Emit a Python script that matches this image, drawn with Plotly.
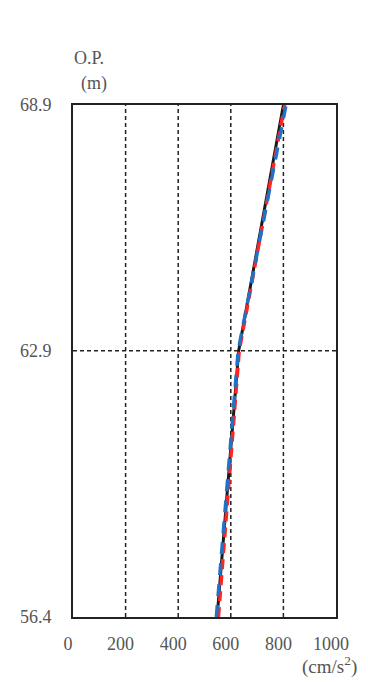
import plotly.graph_objects as go

heights = [56.4, 62.9, 68.9]
black_vals = [548, 630, 800]
red_vals = [553, 632, 805]
blue_vals = [545, 628, 810]

x_ticks = [0, 200, 400, 600, 800, 1000]
x_ticklabels = ["0", "200", "400", "600", "800", "1000"]
y_ticks = [56.4, 62.9, 68.9]
y_ticklabels = ["56.4", "62.9", "68.9"]

FONT = "Liberation Serif"
TXT = "#555555"

fig = go.Figure()
fig.add_trace(go.Scatter(x=black_vals, y=heights, mode="lines",
                         line=dict(color="#1a1a1a", width=3), showlegend=False))
fig.add_trace(go.Scatter(x=red_vals, y=heights, mode="lines",
                         line=dict(color="#ff2525", width=3.5, dash="10px,6px"), showlegend=False))
fig.add_trace(go.Scatter(x=blue_vals, y=heights, mode="lines",
                         line=dict(color="#1f72c4", width=3.5, dash="12px,9px"), showlegend=False))

# dashed grid lines
for v in [200, 400, 600, 800]:
    fig.add_shape(type="line", x0=v, x1=v, y0=56.4, y1=68.9, xref="x", yref="y",
                  line=dict(color="#222222", width=1.5, dash="4px,3px"), layer="below")
fig.add_shape(type="line", x0=0, x1=1000, y0=62.9, y1=62.9, xref="x", yref="y",
              line=dict(color="#222222", width=1.5, dash="4px,3px"), layer="below")

fig.update_xaxes(range=[0, 1000], tickvals=x_ticks, ticktext=x_ticklabels,
                 showgrid=False, zeroline=False, showline=True, linecolor="#222222",
                 linewidth=2, mirror=True, ticks="", ticklabelstandoff=9,
                 ticklabelshift=-5,
                 tickfont=dict(family=FONT, size=18, color=TXT))
fig.update_yaxes(range=[56.4, 68.9], tickvals=y_ticks, ticktext=y_ticklabels,
                 showgrid=False, zeroline=False, showline=True, linecolor="#222222",
                 linewidth=2, mirror=True, ticks="", ticklabelstandoff=16,
                 tickfont=dict(family=FONT, size=18, color=TXT))

fig.add_annotation(text="O.P.", xref="paper", yref="paper", x=0.0, y=1.0,
                   xshift=-1, yshift=47, xanchor="left", yanchor="middle", showarrow=False,
                   font=dict(family=FONT, size=18, color=TXT))
fig.add_annotation(text="(m)", xref="paper", yref="paper", x=0.0, y=1.0,
                   xshift=6, yshift=22, xanchor="left", yanchor="middle", showarrow=False,
                   font=dict(family=FONT, size=18, color=TXT))
fig.add_annotation(text="(cm/s<sup>2</sup>)", xref="paper", yref="paper", x=1.0, y=0.0,
                   yshift=-48, xshift=-36, xanchor="left", yanchor="middle", showarrow=False,
                   font=dict(family=FONT, size=19, color=TXT))

fig.update_layout(width=360, height=674, margin=dict(l=63, r=32, t=97, b=65),
                  plot_bgcolor="white", paper_bgcolor="white")

fig.write_html("out.html")
